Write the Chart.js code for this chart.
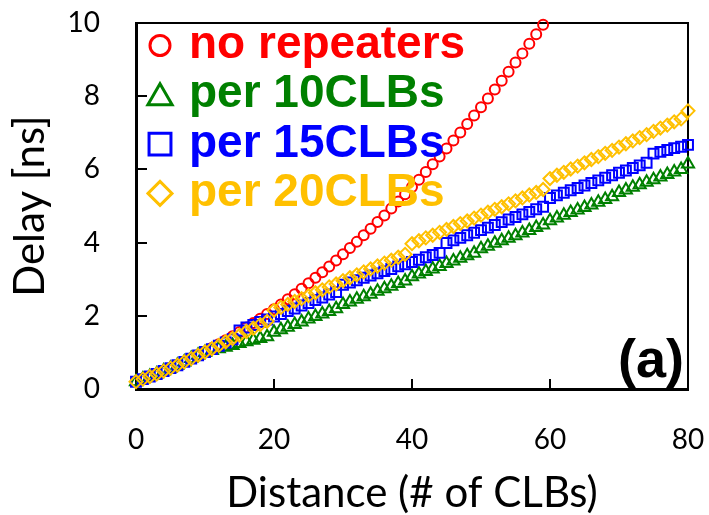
<!DOCTYPE html>
<html>
<head>
<meta charset="utf-8">
<script src="https://cdn.jsdelivr.net/npm/chart.js"></script>
<style>
  html, body { margin: 0; padding: 0; background: #fff; }
  #wrap { width: 709px; height: 515px; }
</style>
</head>
<body>
<div id="wrap"><canvas id="delayChart"></canvas></div>
<script>
// distance along the wire (# of CLBs)
const distance = [
  0, 1, 2, 3, 4, 5, 6, 7, 8, 9,
  10, 11, 12, 13, 14, 15, 16, 17, 18, 19,
  20, 21, 22, 23, 24, 25, 26, 27, 28, 29,
  30, 31, 32, 33, 34, 35, 36, 37, 38, 39,
  40, 41, 42, 43, 44, 45, 46, 47, 48, 49,
  50, 51, 52, 53, 54, 55, 56, 57, 58, 59,
  60, 61, 62, 63, 64, 65, 66, 67, 68, 69,
  70, 71, 72, 73, 74, 75, 76, 77, 78, 79,
  80
];

// delay [ns]
const noRepeaters = [
  0.20, 0.27, 0.34, 0.41, 0.49, 0.57, 0.65, 0.74, 0.83, 0.92,
  1.02, 1.12, 1.22, 1.33, 1.44, 1.56, 1.68, 1.80, 1.92, 2.05,
  2.18, 2.31, 2.45, 2.59, 2.74, 2.89, 3.04, 3.19, 3.35, 3.51,
  3.68, 3.85, 4.02, 4.20, 4.38, 4.56, 4.74, 4.93, 5.12, 5.32,
  5.52, 5.72, 5.93, 6.14, 6.35, 6.57, 6.79, 7.01, 7.24, 7.47,
  7.70, 7.94, 8.18, 8.42, 8.67, 8.92, 9.17, 9.43, 9.69, 9.95
];
const per10CLBs = [
  0.20, 0.27, 0.34, 0.41, 0.49, 0.57, 0.65, 0.74, 0.83, 0.92,
  1.00, 1.05, 1.10, 1.14, 1.19, 1.24, 1.29, 1.33, 1.38, 1.43,
  1.55, 1.62, 1.69, 1.76, 1.83, 1.91, 1.98, 2.05, 2.12, 2.19,
  2.31, 2.38, 2.45, 2.52, 2.59, 2.67, 2.74, 2.81, 2.88, 2.95,
  3.07, 3.14, 3.21, 3.28, 3.35, 3.43, 3.50, 3.57, 3.64, 3.71,
  3.83, 3.90, 3.98, 4.05, 4.12, 4.19, 4.26, 4.33, 4.41, 4.48,
  4.60, 4.67, 4.75, 4.82, 4.89, 4.96, 5.03, 5.10, 5.18, 5.25,
  5.37, 5.44, 5.51, 5.58, 5.65, 5.72, 5.79, 5.86, 5.93, 6.00,
  6.15
];
const per15CLBs = [
  0.20, 0.27, 0.34, 0.41, 0.49, 0.57, 0.65, 0.74, 0.83, 0.92,
  1.01, 1.09, 1.18, 1.27, 1.36, 1.60, 1.68, 1.75, 1.83, 1.90,
  1.98, 2.05, 2.13, 2.20, 2.28, 2.35, 2.43, 2.50, 2.58, 2.65,
  2.85, 2.91, 2.97, 3.04, 3.10, 3.16, 3.22, 3.28, 3.35, 3.41,
  3.47, 3.53, 3.60, 3.66, 3.72, 3.99, 4.06, 4.13, 4.20, 4.27,
  4.34, 4.41, 4.48, 4.56, 4.63, 4.70, 4.77, 4.84, 4.91, 4.98,
  5.22, 5.29, 5.36, 5.43, 5.49, 5.56, 5.63, 5.70, 5.77, 5.84,
  5.91, 5.97, 6.04, 6.11, 6.18, 6.43, 6.48, 6.53, 6.58, 6.62,
  6.67
];
const per20CLBs = [
  0.20, 0.27, 0.34, 0.41, 0.49, 0.57, 0.65, 0.74, 0.83, 0.92,
  1.01, 1.10, 1.19, 1.29, 1.38, 1.47, 1.57, 1.66, 1.76, 1.85,
  2.15, 2.23, 2.31, 2.39, 2.47, 2.55, 2.63, 2.71, 2.79, 2.87,
  2.96, 3.04, 3.12, 3.20, 3.28, 3.36, 3.44, 3.52, 3.60, 3.68,
  3.97, 4.05, 4.13, 4.20, 4.28, 4.36, 4.44, 4.52, 4.59, 4.67,
  4.75, 4.83, 4.91, 4.98, 5.06, 5.14, 5.22, 5.30, 5.37, 5.45,
  5.75, 5.84, 5.92, 6.01, 6.09, 6.18, 6.27, 6.35, 6.44, 6.52,
  6.61, 6.70, 6.78, 6.87, 6.95, 7.04, 7.13, 7.21, 7.30, 7.38,
  7.60
];

const seriesNames = ['no repeaters', 'per 10CLBs', 'per 15CLBs', 'per 20CLBs'];
const seriesValues = [noRepeaters, per10CLBs, per15CLBs, per20CLBs];
const seriesColors = ['#FF0000', '#008000', '#0000FF', '#FFC000'];
const seriesMarkers = ['circle', 'triangle', 'rect', 'rectRot'];
const markerRadius = [5, 7, 7, 6.5];
const legendRadius = [10, 14, 15.5, 12];

const xTicks = [0, 20, 40, 60, 80];
const yTicks = [0, 2, 4, 6, 8, 10];
const panelLabel = '(a)';

Chart.defaults.font.family = 'Lato, "Open Sans", sans-serif';
Chart.defaults.color = '#000';

const datasets = seriesValues.map((vals, i) => ({
  label: seriesNames[i],
  data: vals.map((v, k) => ({ x: distance[k], y: v })),
  showLine: false,
  pointStyle: seriesMarkers[i],
  pointRadius: markerRadius[i],
  pointBorderWidth: 2,
  pointBorderColor: seriesColors[i],
  pointBackgroundColor: 'rgba(0,0,0,0)',
  borderColor: seriesColors[i],
  backgroundColor: 'rgba(0,0,0,0)',
  order: seriesNames.length - i,
  clip: false
}));

// legend drawn inside the plot, plus the "(a)" panel tag
const insideLegend = {
  id: 'insideLegend',
  afterDraw(chart) {
    const { ctx, chartArea } = chart;
    ctx.save();
    ctx.font = 'bold 46px "Liberation Sans", Arial, sans-serif';
    ctx.textBaseline = 'alphabetic';
    ctx.textAlign = 'left';
    seriesNames.forEach((name, i) => {
      const base = chartArea.top + 35 + i * 49.3;
      const cx = chartArea.left + 24;
      let cy = base - 12.5;
      if (seriesMarkers[i] === 'triangle') cy += 3;
      ctx.strokeStyle = seriesColors[i];
      ctx.fillStyle = 'rgba(0,0,0,0)';
      ctx.lineWidth = 3;
      Chart.helpers.drawPoint(ctx, {
        pointStyle: seriesMarkers[i],
        radius: legendRadius[i],
        borderWidth: 3,
        rotation: 0
      }, cx, cy);
      ctx.fillStyle = seriesColors[i];
      ctx.fillText(name, chartArea.left + 53, base);
    });
    ctx.font = 'bold 54px "Liberation Sans", Arial, sans-serif';
    ctx.fillStyle = '#000';
    ctx.textAlign = 'right';
    ctx.fillText(panelLabel, chartArea.right - 4, chartArea.bottom - 12);
    ctx.restore();
  }
};

new Chart(document.getElementById('delayChart'), {
  type: 'scatter',
  data: { datasets },
  plugins: [insideLegend],
  options: {
    responsive: true,
    maintainAspectRatio: false,
    animation: false,
    layout: { padding: { top: 23, right: 21, left: 0, bottom: 0 } },
    plugins: { legend: { display: false }, tooltip: { enabled: false } },
    scales: {
      x: {
        type: 'linear',
        position: 'bottom',
        min: 0,
        max: 80,
        afterBuildTicks: axis => { axis.ticks = xTicks.map(v => ({ value: v })); },
        afterFit: axis => { axis.height = 126; axis.paddingLeft = 0; axis.paddingRight = 0; },
        ticks: { font: { size: 28 }, color: '#000', padding: 44, maxRotation: 0 },
        grid: { drawOnChartArea: false, drawTicks: true, tickLength: -10, color: '#000', lineWidth: 2 },
        border: { display: true, color: '#000', width: 3 },
        title: {
          display: true,
          text: 'Distance (# of CLBs)',
          font: { size: 42, lineHeight: 1 },
          color: '#000',
          padding: { top: 0, bottom: 1 }
        }
      },
      y: {
        type: 'linear',
        position: 'left',
        min: 0,
        max: 10,
        afterBuildTicks: axis => { axis.ticks = yTicks.map(v => ({ value: v })); },
        afterFit: axis => { axis.width = 136; axis.paddingTop = 0; axis.paddingBottom = 0; },
        ticks: { font: { size: 28 }, color: '#000', padding: 47 },
        grid: { drawOnChartArea: false, drawTicks: true, tickLength: -11, color: '#000', lineWidth: 2 },
        border: { display: true, color: '#000', width: 3 },
        title: {
          display: true,
          text: 'Delay [ns]',
          font: { size: 42, lineHeight: 1 },
          color: '#000',
          padding: { top: 9, bottom: 0 }
        }
      },
      xTop: {
        type: 'linear',
        position: 'top',
        display: true,
        ticks: { display: false },
        grid: { display: false, drawTicks: false },
        border: { display: true, color: '#000', width: 2 },
        afterFit: axis => { axis.height = 0; axis.paddingLeft = 0; axis.paddingRight = 0; }
      },
      yRight: {
        type: 'linear',
        position: 'right',
        display: true,
        ticks: { display: false },
        grid: { display: false, drawTicks: false },
        border: { display: true, color: '#000', width: 2 },
        afterFit: axis => { axis.width = 0; axis.paddingTop = 0; axis.paddingBottom = 0; }
      }
    }
  }
});
</script>
</body>
</html>
